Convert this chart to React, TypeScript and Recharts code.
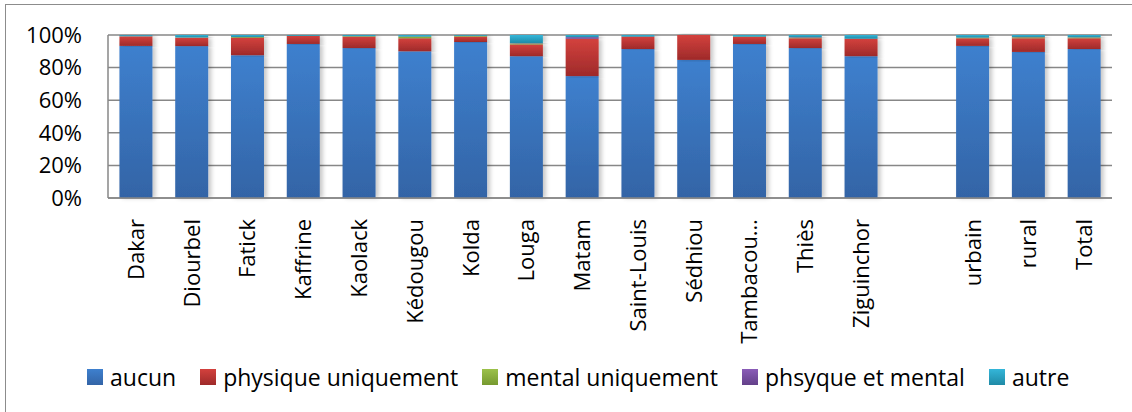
import { Bar, BarChart, CartesianGrid, XAxis, YAxis } from "recharts"

const regions = [
  "Dakar", "Diourbel", "Fatick", "Kaffrine", "Kaolack", "Kédougou", "Kolda", "Louga",
  "Matam", "Saint-Louis", "Sédhiou", "Tambacou…", "Thiès", "Ziguinchor", "", "urbain", "rural", "Total",
]

const aucun = [93.3, 93.2, 87.6, 94.5, 92.0, 90.0, 95.7, 87.0, 74.8, 91.4, 84.7, 94.5, 92.0, 87.0, null, 93.3, 89.6, 91.4]
const physique = [5.7, 5.0, 10.6, 4.9, 7.0, 8.0, 3.3, 7.2, 22.9, 7.6, 15.3, 4.3, 6.0, 10.7, null, 4.7, 8.4, 6.6]
const mental = [0.2, 0.2, 0.5, 0.1, 0.3, 1.0, 0.5, 0.6, 0, 0, 0, 0.2, 0.4, 0, null, 0.4, 0.6, 0.5]
const physMental = [0.3, 0.1, 0.1, 0, 0, 0, 0, 0.2, 1.0, 0, 0, 0, 0.3, 0, null, 0, 0.2, 0.1]
const autre = [0.5, 1.5, 1.2, 0.5, 0.7, 1.0, 0.5, 5.0, 1.3, 1.0, 0, 1.0, 1.3, 2.3, null, 1.6, 1.2, 1.4]

const yTicks = [0, 20, 40, 60, 80, 100]

const data = regions.map((name, i) => ({
  name,
  aucun: aucun[i],
  physique: physique[i],
  mental: mental[i],
  physMental: physMental[i],
  autre: autre[i],
}))

const series = [
  { key: "aucun", label: "aucun", top: "#3e80ce", bottom: "#3364a6" },
  { key: "physique", label: "physique uniquement", top: "#d3413d", bottom: "#9e2a2a" },
  { key: "mental", label: "mental uniquement", top: "#9cc14a", bottom: "#76992f" },
  { key: "physMental", label: "phsyque et mental", top: "#8a5cb8", bottom: "#634089" },
  { key: "autre", label: "autre", top: "#34b6d9", bottom: "#1f8aa6" },
]

const font = "'Open Sans', sans-serif"
const gridColor = "#878787"

function XTick({ x, y, payload }: any) {
  return (
    <text
      x={x + 8}
      y={y + 13}
      transform={`rotate(-90, ${x + 8}, ${y + 13})`}
      textAnchor="end"
      fontFamily={font}
      fontSize={22}
      fill="#000"
    >
      {payload.value}
    </text>
  )
}

function Segment(props: any) {
  const { x, y, width, height, fill } = props
  if (!height || height <= 0) return null
  return <rect x={x} y={y} width={width} height={height} fill={fill} filter="url(#barShadow)" />
}

export default function App() {
  return (
    <div style={{ position: "fixed", left: 0, top: 0, width: 1132, height: 412, background: "#fff", overflow: "hidden" }}>
      <div
        style={{
          position: "absolute",
          left: 5,
          top: 4,
          width: 1200,
          height: 500,
          border: "1.5px solid #8c8c8c",
        }}
      />
      <div style={{ position: "absolute", left: 0, top: 0 }}>
        <BarChart
          width={1132}
          height={412}
          data={data}
          margin={{ top: 35, right: 20, bottom: 0, left: 8 }}
          barCategoryGap="20.5%"
        >
          <defs>
            {series.map((s) => (
              <linearGradient key={s.key} id={`g-${s.key}`} x1="0" y1="0" x2="0" y2="1">
                <stop offset="0%" stopColor={s.top} />
                <stop offset="100%" stopColor={s.bottom} />
              </linearGradient>
            ))}
            <filter id="barShadow" x="-20%" y="-5%" width="150%" height="110%">
              <feDropShadow dx={3} dy={0} stdDeviation={2} floodColor="#000" floodOpacity={0.22} />
            </filter>
          </defs>
          <CartesianGrid vertical={false} stroke={gridColor} strokeWidth={1.5} />
          <XAxis
            dataKey="name"
            interval={0}
            height={214}
            tick={<XTick />}
            tickLine={false}
            axisLine={{ stroke: gridColor, strokeWidth: 1.5 }}
          />
          <YAxis
            width={100}
            domain={[0, 100]}
            ticks={yTicks}
            tickFormatter={(v) => `${v}%`}
            tickLine={false}
            tickSize={0}
            tickMargin={26}
            axisLine={{ stroke: gridColor, strokeWidth: 1.5 }}
            tick={{ fontFamily: font, fontSize: 22, fill: "#000" }}
          />
          {series.map((s) => (
            <Bar
              key={s.key}
              dataKey={s.key}
              stackId="a"
              fill={`url(#g-${s.key})`}
              shape={<Segment />}
              isAnimationActive={false}
            />
          ))}
        </BarChart>
      </div>
      <div
        style={{
          position: "absolute",
          left: 87,
          top: 361,
          display: "flex",
          alignItems: "center",
          gap: 24,
          fontFamily: font,
          fontSize: 23,
          color: "#000",
          whiteSpace: "nowrap",
        }}
      >
        {series.map((s) => (
          <div key={s.key} style={{ display: "flex", alignItems: "center", gap: 7 }}>
            <div
              style={{
                width: 16,
                height: 16,
                background: `linear-gradient(${s.top}, ${s.bottom})`,
              }}
            />
            <span>{s.label}</span>
          </div>
        ))}
      </div>
    </div>
  )
}
